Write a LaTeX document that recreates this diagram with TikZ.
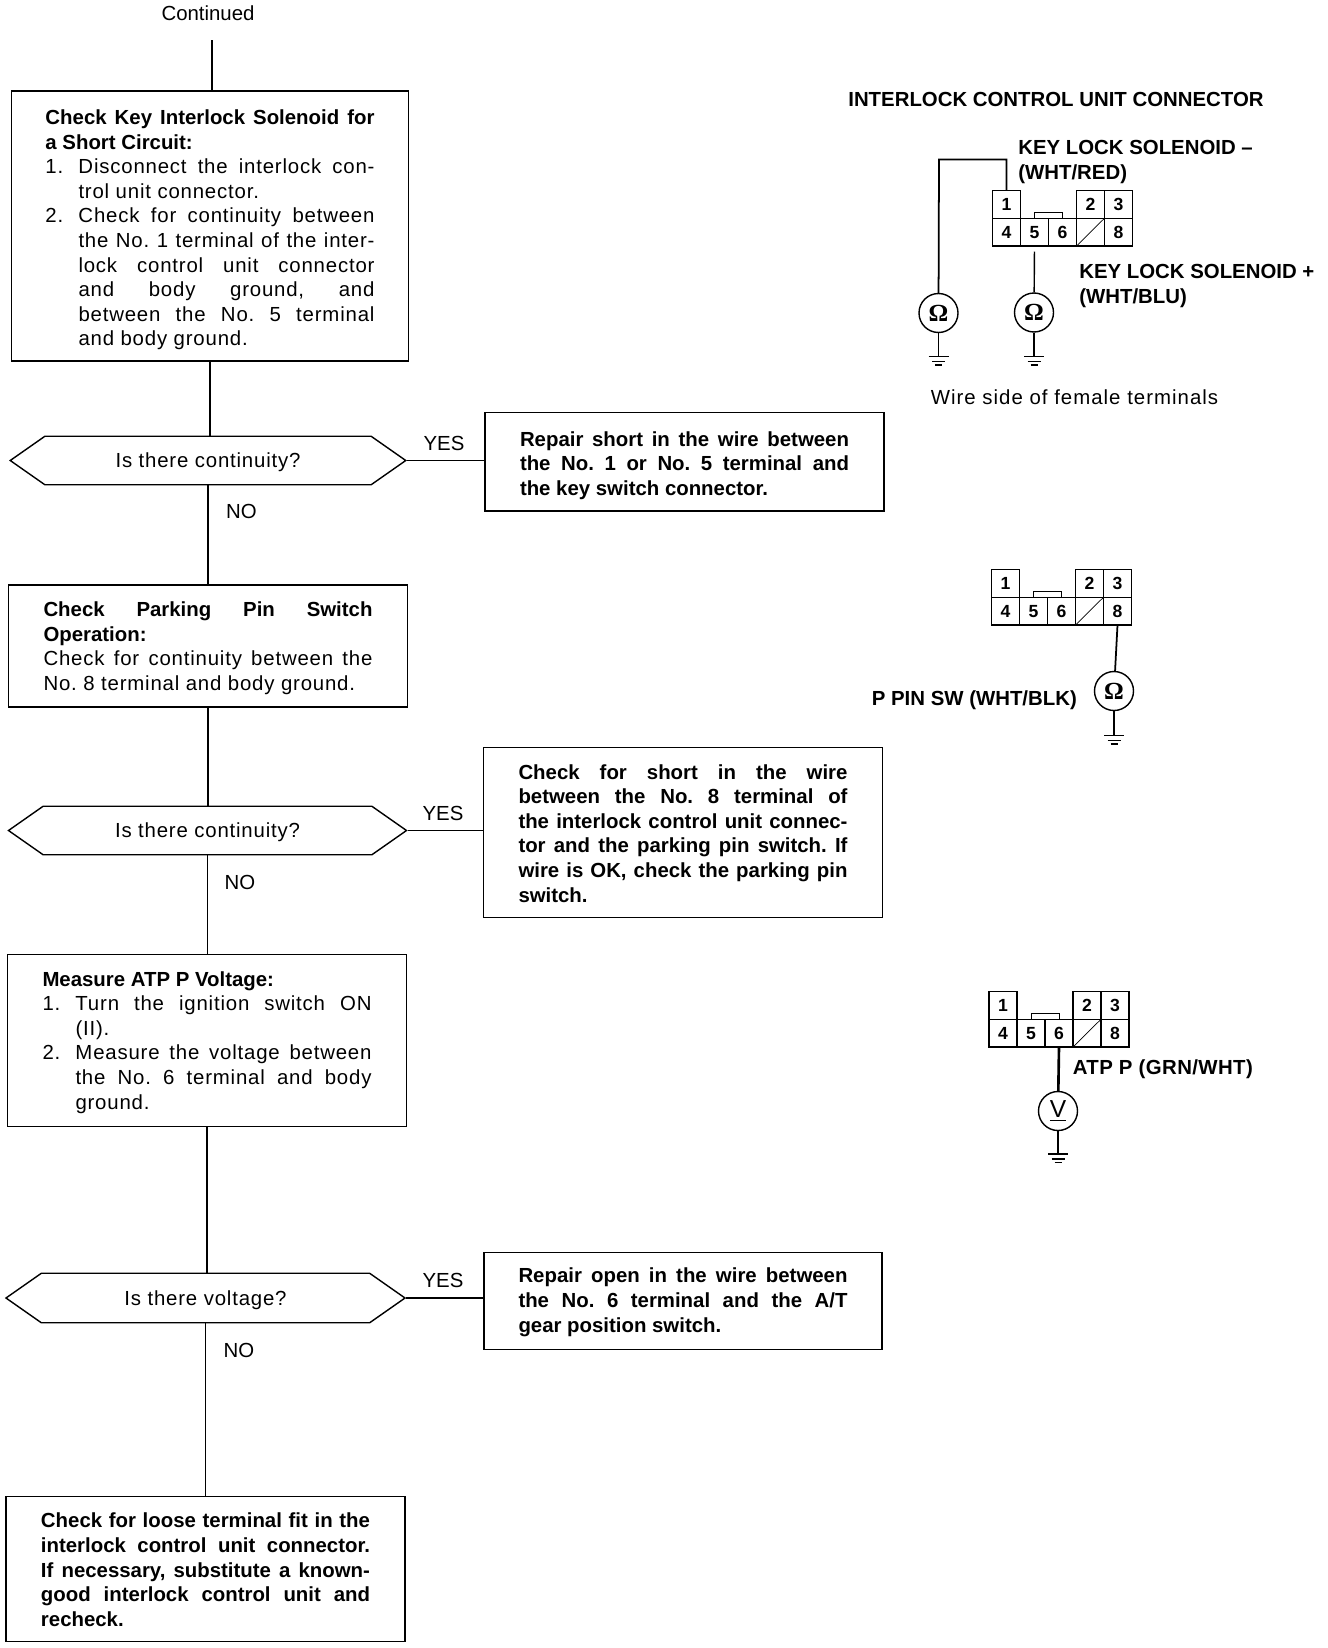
\documentclass[tikz,border=0pt]{standalone}
\usepackage{fontspec}
\setmainfont{Liberation Sans}
\newfontfamily\meterfont{Liberation Serif}
\usetikzlibrary{shapes.symbols}
\hyphenpenalty=10000
\tolerance=9999
\hbadness=10000
\frenchspacing
\newcommand{\bodyfont}{\fontsize{11.6}{14}\selectfont}
\newcommand{\widefont}{\addfontfeature{LetterSpace=4}}
\newcommand{\stepitem}[1]{\par\hangindent=0.66cm\hangafter=1\noindent\hbox to 0.66cm{#1\hfil}}
\tikzset{
    stepbox/.style={rectangle, draw, line width=0.8pt, inner sep=0pt, text width=6.58cm, align=justify, font=\bodyfont, execute at begin node={\rule{0pt}{#1}}},
    stepbox/.default=12.9pt,
    askbox/.style={signal, signal to=east and west, signal pointer angle=70, draw, line width=0.8pt, inner sep=0pt, text height=10.8pt, text depth=2.5pt, font=\bodyfont\widefont},
    flowline/.style={line width=0.8pt},
    tag/.style={inner sep=0pt, font=\bodyfont},
    termtag/.style={inner sep=0pt, anchor=west, align=left, font=\bodyfont\bfseries},
    termcell/.style={rectangle, draw, line width=0.8pt, minimum width=0.56cm, minimum height=0.555cm, inner sep=0pt, outer sep=0pt, font=\fontsize{10}{12}\selectfont\bfseries},
    meter/.style={circle, draw, line width=0.8pt, minimum size=0.78cm, inner sep=0pt, font=\meterfont\fontsize{14}{16}\selectfont\bfseries},
    termblock/.pic={
        \node[termcell] (-1) at (0.28, -0.2775) {1};
        \node[termcell] (-4) at (0.28, -0.8325) {4};
        \node[termcell] (-5) at (0.84, -0.8325) {5};
        \node[termcell] (-6) at (1.40, -0.8325) {6};
        \node[termcell] (-7) at (1.96, -0.8325) {};
        \node[termcell] (-2) at (1.96, -0.2775) {2};
        \node[termcell] (-3) at (2.52, -0.2775) {3};
        \node[termcell] (-8) at (2.52, -0.8325) {8};
        \draw (-7.south west) -- (-7.north east);
        \draw[line width=0.4pt] (-5.north) -- ++(0, 0.12) -| (-6.north);
    },
    earthmark/.pic={
        \draw[line width=0.8pt] (-0.2, 0) -- (0.2, 0);
        \draw[line width=0.8pt] (-0.13, -0.1) -- (0.13, -0.1);
        \draw[line width=0.8pt] (-0.07, -0.17) -- (0.07, -0.17);
    }
}
\begin{document}
\begin{tikzpicture}
        \useasboundingbox (0, 0) rectangle (26.56, -32.96);

        \node[tag] (contlabel) at (4.16, -0.26) {Continued};
        \coordinate (topend) at (4.24, -0.8);

        \node[stepbox, minimum width=7.95cm, minimum height=5.4cm] (shortbox) at (4.2, -4.52) {\textbf{Check Key Interlock Solenoid for\linebreak a Short Circuit:}\widefont
            \stepitem{1.}Disconnect the interlock con-\linebreak trol unit connector.
            \stepitem{2.}Check for continuity between\linebreak the No. 1 terminal of the inter-\linebreak lock control unit connector\linebreak and body ground, and\linebreak between the No. 5 terminal\linebreak and body ground.\par};
        \node[askbox, minimum width=7.91cm, minimum height=0.97cm] (askone) at (4.16, -9.21) {Is there continuity?};
        \node[stepbox, minimum width=7.98cm, minimum height=1.97cm] (repairone) at (13.69, -9.235) {\bfseries Repair short in the wire between\linebreak the No. 1 or No. 5 terminal and\linebreak the key switch connector.};
        \node[stepbox=11pt, minimum width=7.98cm, minimum height=2.44cm] (pinbox) at (4.16, -12.92) {\textbf{Check Parking Pin Switch\linebreak Operation:}\par\widefont Check for continuity between the\linebreak No. 8 terminal and body ground.};
        \node[askbox, minimum width=7.96cm, minimum height=0.97cm] (asktwo) at (4.15, -16.61) {Is there continuity?};
        \node[stepbox=9.3pt, minimum width=7.98cm, minimum height=3.41cm] (repairtwo) at (13.66, -16.65) {\bfseries Check for short in the wire\linebreak between the No. 8 terminal of\linebreak the interlock control unit connec-\linebreak tor and the parking pin switch. If\linebreak wire is OK, check the parking pin\linebreak switch.};
        \node[stepbox=10.5pt, minimum width=7.98cm, minimum height=3.43cm] (atpbox) at (4.14, -20.81) {\textbf{Measure ATP P Voltage:}\widefont
            \stepitem{1.}Turn the ignition switch ON\linebreak (II).
            \stepitem{2.}Measure the voltage between\linebreak the No. 6 terminal and body\linebreak ground.\par};
        \node[askbox, minimum width=7.98cm, minimum height=0.99cm] (askthree) at (4.11, -25.96) {Is there voltage?};
        \node[stepbox=9.8pt, minimum width=7.96cm, minimum height=1.94cm] (repairthree) at (13.66, -26.02) {\bfseries Repair open in the wire between\linebreak the No. 6 terminal and the A/T\linebreak gear position switch.};
        \node[stepbox=9.3pt, minimum width=7.98cm, minimum height=2.91cm] (fitbox) at (4.11, -31.38) {\bfseries Check for loose terminal fit in the\linebreak interlock control unit connector.\linebreak If necessary, substitute a known-\linebreak good interlock control unit and\linebreak recheck.};

        \draw[flowline] (topend) -- (topend |- shortbox.north);
        \draw[flowline] (shortbox.south) -- (shortbox.south |- askone.north);
        \draw[flowline] (askone.south) -- (askone.south |- pinbox.north);
        \draw[flowline] (pinbox.south) -- (pinbox.south |- asktwo.north);
        \draw[flowline] (asktwo.south) -- (asktwo.south |- atpbox.north);
        \draw[flowline] (atpbox.south) -- (atpbox.south |- askthree.north);
        \draw[flowline] (askthree.south) -- (askthree.south |- fitbox.north);
        \draw[flowline] (askone.east) -- (askone.east -| repairone.west);
        \draw[flowline] (asktwo.east) -- (asktwo.east -| repairtwo.west);
        \draw[flowline] (askthree.east) -- (askthree.east -| repairthree.west);

        \node[tag] (yesone) at (8.88, -8.87) {YES};
        \node[tag] (noone) at (4.83, -10.22) {NO};
        \node[tag] (yestwo) at (8.86, -16.27) {YES};
        \node[tag] (notwo) at (4.8, -17.64) {NO};
        \node[tag] (yesthree) at (8.86, -25.6) {YES};
        \node[tag] (nothree) at (4.78, -27.0) {NO};

        \node[termtag] (unittitle) at (16.96, -1.99) {INTERLOCK CONTROL UNIT CONNECTOR};
        \node[termtag] (solminus) at (20.36, -3.24) {KEY LOCK SOLENOID --\\(WHT/RED)};
        \node[termtag] (solplus) at (21.58, -5.72) {KEY LOCK SOLENOID +\\(WHT/BLU)};
        \node[tag, anchor=west, font=\bodyfont\addfontfeature{LetterSpace=5}] (wireside) at (18.61, -7.94) {Wire side of female terminals};
        \node[termtag] (pinsw) at (17.43, -14) {P PIN SW (WHT/BLK)};
        \node[termtag, font=\bodyfont\bfseries\addfontfeature{LetterSpace=2}] (atptag) at (21.45, -21.38) {ATP P (GRN/WHT)};

        \pic (blockA) at (19.85, -3.81) {termblock};
        \pic (blockB) at (19.83, -11.39) {termblock};
        \pic (blockC) at (19.78, -19.83) {termblock};

        \node[meter] (ohmA) at (18.77, -6.26) {Ω};
        \node[meter] (ohmB) at (20.68, -6.25) {Ω};
        \node[meter] (ohmC) at (22.28, -13.82) {Ω};
        \node[meter, font=\normalfont\fontsize{14}{16}\selectfont] (voltC) at (21.16, -22.22) {\underline{V}};

        \coordinate (wireA) at (18.78, -3.19);
        \coordinate (gndA) at (18.77, -7.13);
        \coordinate (gndB) at (20.68, -7.13);
        \coordinate (gndC) at (22.28, -14.71);
        \coordinate (gndD) at (21.16, -23.08);

        \draw[line width=1pt] (blockA-1.north) |- (wireA) -- (ohmA);
        \draw[line width=0.8pt, shorten <=0.11cm] (blockA-5.south) -- (ohmB);
        \draw[line width=1pt] (blockB-8.south) -- (ohmC);
        \draw[line width=1.5pt] (blockC-6.south) -- (voltC);

        \draw[line width=0.8pt] (ohmA) -- (gndA);
        \draw[line width=0.8pt] (ohmB) -- (gndB);
        \draw[line width=0.8pt] (ohmC) -- (gndC);
        \draw[line width=0.8pt] (voltC) -- (gndD);

        \pic at (gndA) {earthmark};
        \pic at (gndB) {earthmark};
        \pic at (gndC) {earthmark};
        \pic at (gndD) {earthmark};

    \end{tikzpicture}
\end{document}
